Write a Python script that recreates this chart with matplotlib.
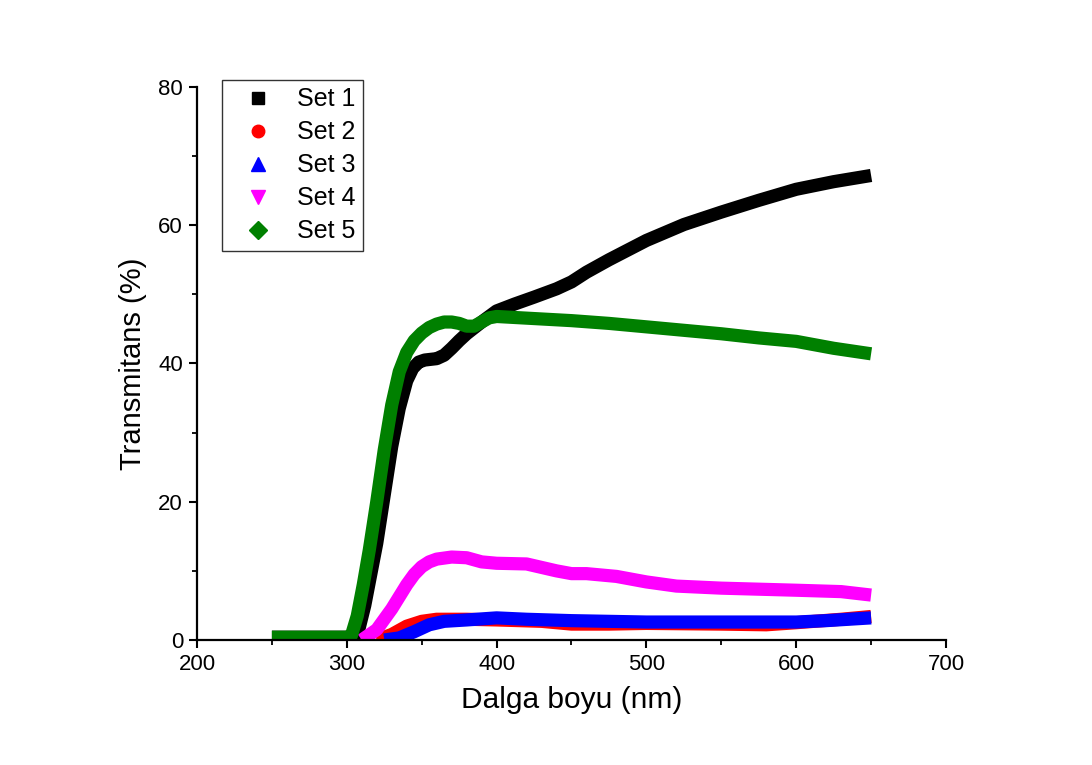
import matplotlib
matplotlib.use("Agg")
import matplotlib.pyplot as plt
from matplotlib.lines import Line2D
from matplotlib.ticker import MultipleLocator

plt.rcParams['font.family'] = ['Liberation Sans', 'DejaVu Sans']

# Transmittance spectra (wavelength in nm, transmittance in %)
wl_set1 = [250, 270, 290, 300, 305, 308, 312, 316, 320, 325, 330, 335, 340, 344,
           348, 352, 356, 360, 365, 370, 375, 380, 390, 400, 412, 425, 440, 450,
           460, 475, 500, 525, 550, 575, 600, 625, 650]
t_set1 = [0.4, 0.4, 0.4, 0.4, 0.5, 1.5, 5.0, 9.5, 14.0, 21.0, 28.0, 33.5, 37.5,
          39.3, 40.2, 40.5, 40.6, 40.7, 41.2, 42.2, 43.3, 44.3, 46.0, 47.6, 48.6,
          49.6, 50.8, 51.8, 53.2, 55.0, 57.8, 60.1, 61.9, 63.6, 65.2, 66.3, 67.2]

wl_set2 = [320, 330, 340, 350, 360, 380, 400, 430, 450, 475, 500, 550, 580, 600,
           630, 650]
t_set2 = [0.0, 0.8, 2.0, 2.7, 3.0, 3.0, 2.9, 2.7, 2.3, 2.3, 2.4, 2.3, 2.2, 2.5,
          3.0, 3.4]

wl_set3 = [325, 335, 345, 355, 365, 380, 400, 420, 450, 500, 550, 600, 620, 650]
t_set3 = [0.0, 0.3, 1.2, 2.2, 2.7, 2.9, 3.2, 3.0, 2.8, 2.6, 2.6, 2.6, 2.8, 3.2]

wl_set4 = [310, 320, 330, 340, 345, 350, 355, 360, 370, 380, 390, 400, 420, 440,
           450, 460, 480, 500, 520, 550, 600, 630, 650]
t_set4 = [0.0, 1.5, 4.5, 8.0, 9.5, 10.6, 11.3, 11.7, 12.0, 11.9, 11.3, 11.1,
          11.0, 10.0, 9.6, 9.6, 9.2, 8.4, 7.8, 7.5, 7.2, 7.0, 6.5]

wl_set5 = [250, 270, 290, 300, 303, 307, 311, 315, 320, 325, 330, 335, 340, 345,
           350, 355, 360, 365, 370, 375, 380, 385, 390, 395, 400, 425, 450, 475,
           500, 525, 550, 575, 600, 625, 650]
t_set5 = [0.4, 0.4, 0.4, 0.4, 0.6, 3.5, 8.0, 13.0, 20.0, 27.5, 34.0, 38.8,
          41.6, 43.3, 44.4, 45.2, 45.7, 46.0, 46.0, 45.8, 45.4, 45.4, 46.0, 46.6,
          46.8, 46.5, 46.2, 45.8, 45.3, 44.8, 44.3, 43.7, 43.2, 42.2, 41.4]

labels = ["Set 1", "Set 2", "Set 3", "Set 4", "Set 5"]
colors = ["#000000", "#ff0000", "#0000ff", "#ff00ff", "#008000"]
markers = ["s", "o", "^", "v", "D"]

x_ticks = [200, 300, 400, 500, 600, 700]
y_ticks = [0, 20, 40, 60, 80]

fig = plt.figure(figsize=(10.92, 7.65), dpi=100)
ax = fig.add_axes([0.1804, 0.1634, 0.6859, 0.7229])

series = [(wl_set1, t_set1), (wl_set2, t_set2), (wl_set3, t_set3),
          (wl_set4, t_set4), (wl_set5, t_set5)]
for (x, y), c in zip(series, colors):
    ax.plot(x, y, color=c, lw=9.5, solid_capstyle='butt',
            solid_joinstyle='round')

ax.set_xlim(200, 700)
ax.set_ylim(0, 80)
ax.set_xticks(x_ticks)
ax.set_yticks(y_ticks)
ax.xaxis.set_minor_locator(MultipleLocator(50))
ax.yaxis.set_minor_locator(MultipleLocator(10))

for side in ('top', 'right'):
    ax.spines[side].set_visible(False)
for side in ('left', 'bottom'):
    ax.spines[side].set_linewidth(1.6)

ax.tick_params(which='major', direction='out', length=6, width=1.5,
               labelsize=16, pad=4)
ax.tick_params(which='minor', direction='out', length=3.5, width=1.3)

ax.set_xlabel("Dalga boyu (nm)", fontsize=21.5, labelpad=8)
ax.set_ylabel("Transmitans (%)", fontsize=21, labelpad=8)

handles = [Line2D([], [], linestyle='none', marker=m, color=c,
                  markersize=10 if m in ('^', 'v') else 9)
           for m, c in zip(markers, colors)]
leg = ax.legend(handles, labels, loc='upper left',
                bbox_to_anchor=(0.033, 1.013), borderaxespad=0,
                fontsize=18, frameon=True, fancybox=False, framealpha=1,
                edgecolor='#333333', handlelength=2.3, handletextpad=0.4,
                labelspacing=0.36, borderpad=0.3)
leg.get_frame().set_linewidth(1.0)

fig.savefig("out.png", dpi=100, facecolor='white')
